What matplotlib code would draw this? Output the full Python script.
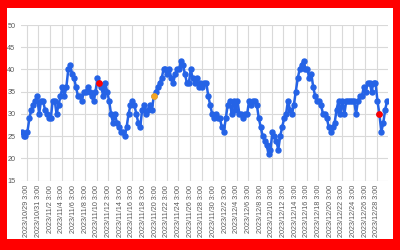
import numpy as np
import pandas as pd
import matplotlib
matplotlib.use('Agg')
import matplotlib.pyplot as plt
from matplotlib.patches import Rectangle

plt.rcParams['font.family'] = ['Liberation Sans', 'DejaVu Sans']

# readings every 8 hours, starting 2023/10/28 6:00
start = '2023-10-28 06:00'
values = [26, 25, 25, 26, 29, 31, 32, 33, 34, 30, 33, 33, 31, 30, 29, 29, 33, 33, 30, 32,
          34, 36, 34, 36, 40, 41, 39, 38, 36, 34, 34, 33, 35, 35, 36, 35, 34, 33, 35, 38,
          37, 36, 34, 37, 35, 33, 30, 28, 30, 28, 27, 26, 26, 25, 27, 30, 32, 33, 32, 30,
          28, 27, 31, 32, 30, 31, 32, 31, 34, 35, 36, 37, 38, 40, 40, 39, 40, 38, 37, 39,
          40, 40, 42, 41, 39, 37, 37, 40, 38, 37, 38, 36, 37, 36, 37, 37, 34, 32, 30, 29,
          30, 29, 29, 27, 26, 29, 32, 33, 30, 33, 31, 33, 30, 30, 29, 30, 30, 33, 32, 33,
          33, 32, 29, 27, 25, 24, 23, 21, 22, 26, 25, 24, 22, 25, 27, 29, 30, 33, 31, 30,
          32, 35, 38, 40, 41, 42, 40, 40, 38, 39, 36, 34, 33, 33, 32, 30, 30, 29, 27, 26,
          27, 28, 31, 33, 30, 33, 30, 33, 33, 33, 33, 33, 30, 33, 34, 34, 36, 35, 37, 37,
          35, 37, 37, 33, 30, 26, 28, 31, 33]
# highlighted points (index into values)
red_points = [40, 184]
orange_points = [68]

times = pd.date_range(start, periods=len(values), freq='8h')
values = np.array(values)

tick_times = pd.date_range('2023-10-29 03:00', '2023-12-28 03:00', freq='2D')
tick_labels = ['%d/%d/%d %d:00' % (t.year, t.month, t.day, t.hour) for t in tick_times]

blue = '#2563e6'

fig = plt.figure(figsize=(4, 2.5), dpi=100)
fig.patch.set_facecolor('#ff0000')
fig.add_artist(Rectangle((7 / 400, 11 / 250), 386 / 400, 231 / 250,
                         transform=fig.transFigure, facecolor='white', edgecolor='none', zorder=0))

ax = fig.add_axes([21 / 400, 69.3 / 250, 367 / 400, 155.7 / 250])
ax.set_facecolor('white')
ax.plot(times, values, color=blue, lw=1.8, marker='o', markersize=3.6, zorder=3)
ax.plot(times[red_points], values[red_points], 'o', color='#ff0000', markersize=3.8, zorder=4)
ax.plot(times[orange_points], values[orange_points], 'o', color='#f5a623', markersize=3.8, zorder=4)

ax.set_ylim(15, 50)
ax.set_yticks(np.arange(15, 51, 5))
ax.set_xlim(pd.Timestamp('2023-10-28 03:30'), pd.Timestamp('2023-12-30 01:30'))
ax.set_xticks(tick_times)
ax.set_xticklabels(tick_labels, rotation=90)
ax.grid(True, color='#d9d9d9', lw=0.8)
ax.set_axisbelow(True)
for s in ax.spines.values():
    s.set_visible(False)
ax.tick_params(axis='both', length=0, labelsize=5.2, labelcolor='#595959')
ax.tick_params(axis='x', pad=3)
ax.tick_params(axis='y', pad=4)

fig.savefig('out.png', dpi=100, facecolor=fig.get_facecolor())
